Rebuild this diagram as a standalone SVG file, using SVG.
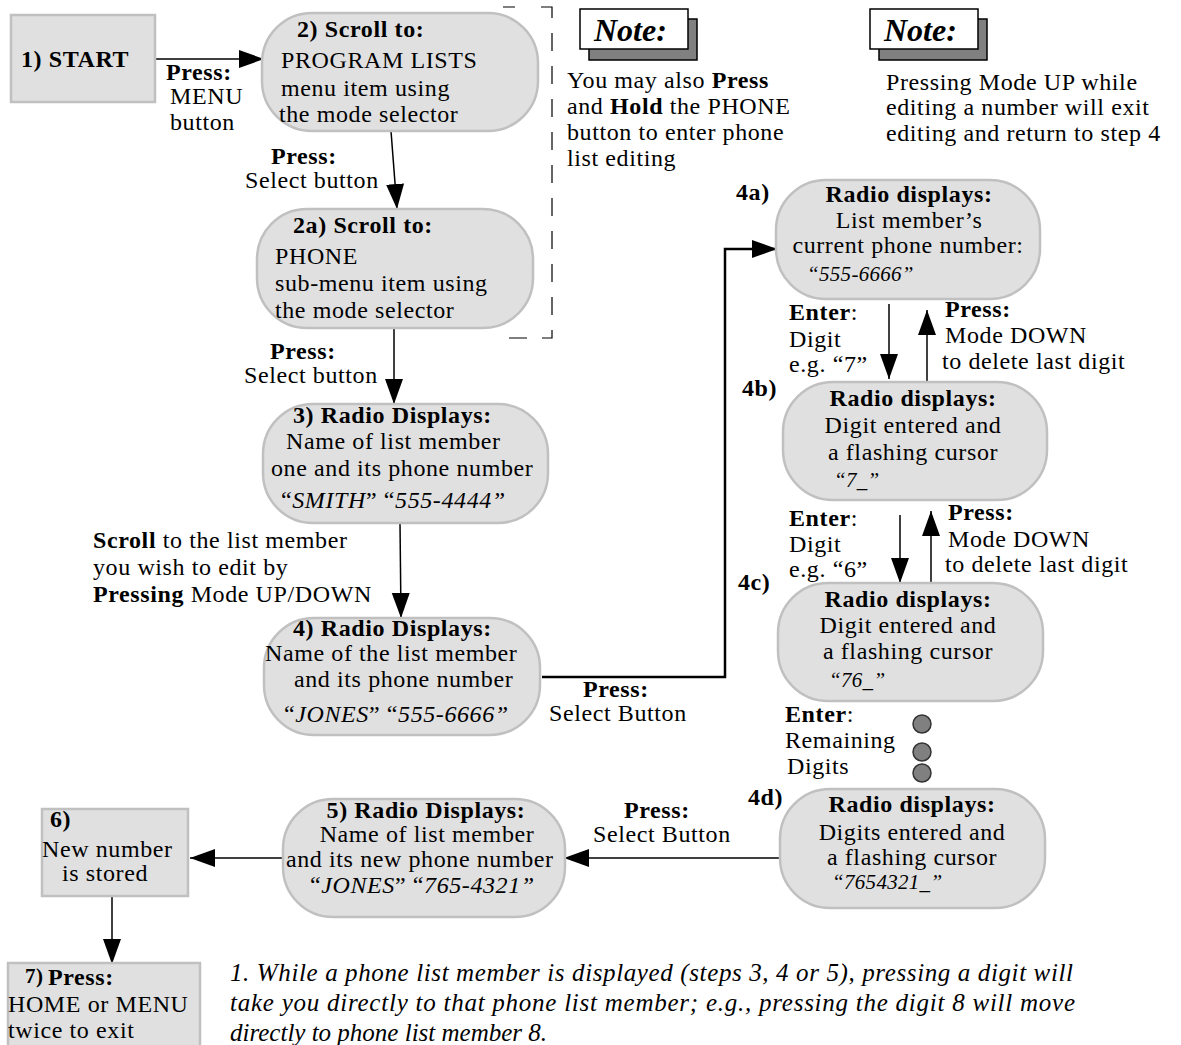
<svg xmlns="http://www.w3.org/2000/svg" width="1181" height="1045" viewBox="0 0 1181 1045">
<defs>
<style>
text{font-family:"Liberation Serif","Times New Roman",serif;font-size:24px;letter-spacing:0.6px;fill:#000}
.b{font-weight:bold}
.i{font-style:italic}
.sm{font-size:21px;letter-spacing:0.3px}
.node{fill:#e0e0e0;stroke:#c0c0c0;stroke-width:2.5}
.c{fill:none;stroke:#000;stroke-width:1.5}
.ct{fill:none;stroke:#000;stroke-width:2.5}
.fn{font-style:italic;font-size:25px;letter-spacing:0}
.nb{fill:#fff;stroke:#000;stroke-width:1.5}
.ns{fill:#808080;stroke:#000;stroke-width:1.5}
.nt{font-weight:bold;font-style:italic;font-size:32px;letter-spacing:0}
.dot{fill:#808080;stroke:#333;stroke-width:1.5}
</style>
<marker id="ah" markerUnits="userSpaceOnUse" markerWidth="26" markerHeight="20" refX="25" refY="10" orient="auto">
<path d="M0,1 L25,10 L0,19 Z" fill="#000"/>
</marker>
</defs>
<rect width="1181" height="1045" fill="#fff"/>

<g id="connectors">
<line class="c" x1="155" y1="59" x2="264" y2="59" marker-end="url(#ah)"/>
<line class="c" x1="391" y1="131" x2="397" y2="209" marker-end="url(#ah)"/>
<line class="c" x1="394" y1="328" x2="394" y2="404" marker-end="url(#ah)"/>
<line class="c" x1="400" y1="523" x2="401" y2="618" marker-end="url(#ah)"/>
<polyline class="ct" points="542,677 725,677 725,249 777,249" marker-end="url(#ah)"/>
<line class="c" x1="889" y1="304" x2="889" y2="379" marker-end="url(#ah)"/>
<line class="c" x1="927" y1="382" x2="927" y2="310" marker-end="url(#ah)"/>
<line class="c" x1="900" y1="515" x2="900" y2="583" marker-end="url(#ah)"/>
<line class="c" x1="931" y1="583" x2="931" y2="511" marker-end="url(#ah)"/>
<line class="c" x1="780" y1="858" x2="564" y2="858" marker-end="url(#ah)"/>
<line class="c" x1="283" y1="858" x2="190" y2="858" marker-end="url(#ah)"/>
<line class="c" x1="112" y1="896" x2="112" y2="964" marker-end="url(#ah)"/>
</g>

<g id="bracket">
<path d="M503,7 H552 V338 H497" fill="none" stroke="#000" stroke-width="1.2" stroke-dasharray="12 26 22 15 18 15 18 15 18 15 18 15 18 15 18 15 18 15 18 15 18 15 18 15 18 15 14 28 12"/>
</g>

<g id="n1">
<rect class="node" x="11" y="15" width="144" height="87"/>
<text x="21" y="67" class="b">1) START</text>
</g>
<g id="l1">
<text x="166" y="80" class="b">Press:</text>
<text x="170" y="104">MENU</text>
<text x="170" y="130">button</text>
</g>

<g id="n2">
<rect class="node" x="262" y="13" width="276" height="118" rx="50" ry="50"/>
<text x="297" y="37" class="b">2) Scroll to:</text>
<text x="281" y="68">PROGRAM LISTS</text>
<text x="281" y="96">menu item using</text>
<text x="279" y="122">the mode selector</text>
</g>
<g id="l2">
<text x="271" y="164" class="b">Press:</text>
<text x="245" y="188">Select button</text>
</g>

<g id="n2a">
<rect class="node" x="257" y="209" width="276" height="119" rx="50" ry="50"/>
<text x="293" y="233" class="b">2a) Scroll to:</text>
<text x="275" y="264">PHONE</text>
<text x="275" y="291">sub-menu item using</text>
<text x="275" y="318">the mode selector</text>
</g>
<g id="l2a">
<text x="270" y="359" class="b">Press:</text>
<text x="244" y="383">Select button</text>
</g>

<g id="n3">
<rect class="node" x="263" y="404" width="285" height="119" rx="50" ry="50"/>
<text x="293" y="423" class="b">3) Radio Displays:</text>
<text x="286" y="449">Name of list member</text>
<text x="271" y="476">one and its phone number</text>
<text x="281" y="508">“<tspan class="i">SMITH</tspan>” “<tspan class="i">555-4444”</tspan></text>
</g>
<g id="l3">
<text x="93" y="548"><tspan class="b">Scroll</tspan> to the list member</text>
<text x="93" y="575">you wish to edit by</text>
<text x="93" y="602"><tspan class="b">Pressing</tspan> Mode UP/DOWN</text>
</g>

<g id="n4">
<rect class="node" x="264" y="618" width="276" height="117" rx="50" ry="50"/>
<text x="293" y="636" class="b">4) Radio Displays:</text>
<text x="265" y="661">Name of the list member</text>
<text x="294" y="687">and its phone number</text>
<text x="284" y="722">“<tspan class="i">JONES</tspan>” “<tspan class="i">555-6666”</tspan></text>
</g>
<g id="l4">
<text x="583" y="697" class="b">Press:</text>
<text x="549" y="721">Select Button</text>
</g>

<g id="note1">
<rect class="ns" x="589" y="19" width="108" height="41"/>
<rect class="nb" x="580" y="9" width="108" height="40"/>
<text x="594" y="41" class="nt">Note:</text>
<text x="567" y="88">You may also <tspan class="b">Press</tspan></text>
<text x="567" y="114">and <tspan class="b">Hold</tspan> the PHONE</text>
<text x="567" y="140">button to enter phone</text>
<text x="567" y="166">list editing</text>
</g>

<g id="note2">
<rect class="ns" x="879" y="19" width="108" height="41"/>
<rect class="nb" x="870" y="9" width="108" height="40"/>
<text x="884" y="41" class="nt">Note:</text>
<text x="886" y="90">Pressing Mode UP while</text>
<text x="886" y="115">editing a number will exit</text>
<text x="886" y="141">editing and return to step 4</text>
</g>

<g id="n4a">
<text x="736" y="200" class="b">4a)</text>
<rect class="node" x="776" y="180" width="264" height="119" rx="50" ry="50"/>
<text x="909" y="202" class="b" text-anchor="middle">Radio displays:</text>
<text x="909" y="228" text-anchor="middle">List member’s</text>
<text x="908" y="253" text-anchor="middle">current phone number:</text>
<text x="807" y="281" class="i sm">“555-6666”</text>
</g>
<g id="l4ab">
<text x="789" y="320"><tspan class="b">Enter</tspan>:</text>
<text x="789" y="347">Digit</text>
<text x="789" y="372">e.g. “7”</text>
<text x="945" y="317" class="b">Press:</text>
<text x="945" y="343">Mode DOWN</text>
<text x="942" y="369">to delete last digit</text>
</g>

<g id="n4b">
<text x="742" y="396" class="b">4b)</text>
<rect class="node" x="783" y="382" width="264" height="118" rx="50" ry="50"/>
<text x="913" y="406" class="b" text-anchor="middle">Radio displays:</text>
<text x="913" y="433" text-anchor="middle">Digit entered and</text>
<text x="913" y="460" text-anchor="middle">a flashing cursor</text>
<text x="834" y="487" class="i sm">“7_”</text>
</g>
<g id="l4bc">
<text x="789" y="526"><tspan class="b">Enter</tspan>:</text>
<text x="789" y="552">Digit</text>
<text x="789" y="577">e.g. “6”</text>
<text x="948" y="520" class="b">Press:</text>
<text x="948" y="547">Mode DOWN</text>
<text x="945" y="572">to delete last digit</text>
</g>

<g id="n4c">
<text x="738" y="590" class="b">4c)</text>
<rect class="node" x="778" y="583" width="265" height="118" rx="50" ry="50"/>
<text x="908" y="607" class="b" text-anchor="middle">Radio displays:</text>
<text x="908" y="633" text-anchor="middle">Digit entered and</text>
<text x="908" y="659" text-anchor="middle">a flashing cursor</text>
<text x="829" y="687" class="i sm">“76_”</text>
</g>
<g id="l4cd">
<text x="785" y="722"><tspan class="b">Enter</tspan>:</text>
<text x="785" y="748">Remaining</text>
<text x="787" y="774">Digits</text>
<circle class="dot" cx="922" cy="724" r="9"/>
<circle class="dot" cx="922" cy="752" r="9"/>
<circle class="dot" cx="922" cy="773" r="9"/>
</g>

<g id="n4d">
<text x="748" y="805" class="b">4d)</text>
<rect class="node" x="780" y="789" width="265" height="119" rx="50" ry="50"/>
<text x="912" y="812" class="b" text-anchor="middle">Radio displays:</text>
<text x="912" y="840" text-anchor="middle">Digits entered and</text>
<text x="912" y="865" text-anchor="middle">a flashing cursor</text>
<text x="832" y="889" class="i sm">“7654321_”</text>
</g>
<g id="l4d5">
<text x="624" y="818" class="b">Press:</text>
<text x="593" y="842">Select Button</text>
</g>

<g id="n5">
<rect class="node" x="283" y="799" width="282" height="118" rx="50" ry="50"/>
<text x="426" y="818" class="b" text-anchor="middle">5) Radio Displays:</text>
<text x="427" y="842" text-anchor="middle">Name of list member</text>
<text x="286" y="867">and its new phone number</text>
<text x="310" y="893">“<tspan class="i">JONES</tspan>” “<tspan class="i">765-4321”</tspan></text>
</g>

<g id="n6">
<rect class="node" x="42" y="809" width="146" height="87"/>
<text x="50" y="827" class="b">6)</text>
<text x="42" y="857">New number</text>
<text x="62" y="881">is stored</text>
</g>

<g id="n7">
<rect class="node" x="8" y="963" width="192" height="90"/>
<text x="25" y="983" class="b" style="font-size:21px">7)</text>
<text x="48" y="985" class="b">Press:</text>
<text x="8" y="1012">HOME or MENU</text>
<text x="8" y="1038">twice to exit</text>
</g>

<g id="footnote">
<text x="230" y="981" class="fn" textLength="843" lengthAdjust="spacing">1. While a phone list member is displayed (steps 3, 4 or 5), pressing a digit will</text>
<text x="230" y="1011" class="fn" textLength="845" lengthAdjust="spacing">take you directly to that phone list member; e.g., pressing the digit 8 will move</text>
<text x="230" y="1041" class="fn">directly to phone list member 8.</text>
</g>
</svg>
